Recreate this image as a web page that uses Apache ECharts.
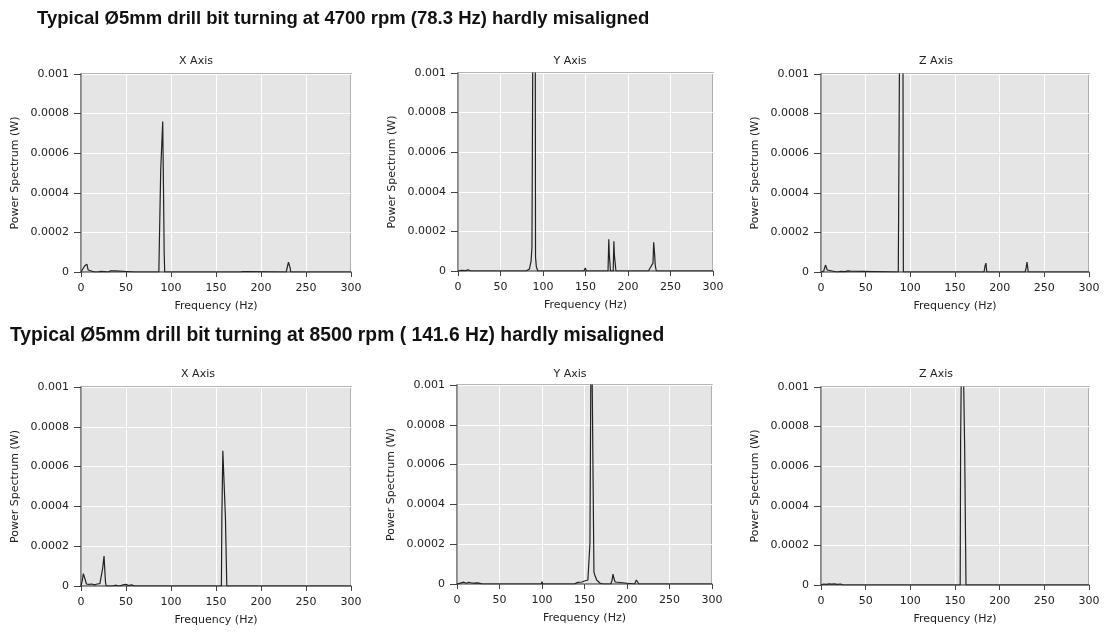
<!DOCTYPE html>
<html>
<head>
<meta charset="utf-8">
<script src="https://cdn.jsdelivr.net/npm/echarts@6/dist/echarts.min.js"></script>
<style>html,body{margin:0;padding:0;background:#fff}#c{width:1104px;height:632px}</style>
</head>
<body>
<div id="c"></div>
<script>
// ---- Data (frequency Hz, power W) ----
const mainTitles = [
  'Typical \u00D85mm drill bit turning at 4700 rpm (78.3 Hz) hardly misaligned',
  'Typical \u00D85mm drill bit turning at 8500 rpm ( 141.6 Hz) hardly misaligned'
];
const panelTitles = ['X Axis', 'Y Axis', 'Z Axis', 'X Axis', 'Y Axis', 'Z Axis'];
const xTicks = [0, 50, 100, 150, 200, 250, 300];
const yTicks = [0, 0.0002, 0.0004, 0.0006, 0.0008, 0.001];

const spec4700X = [[0,0],[2,0.000004],[4,0.00003],[5,0.00004],[6.5,0.00004],[8,0.00001],[9,0],[15,0],[19,0],[20,0.000006],[22,0.000003],[24,0.000006],[26,0.000002],[28,0.000005],[30,0],[33,0.000006],[35,0.000002],[38,0.000006],[40,0],[60,0],[74,0],[75,0.000004],[76,0],[86.5,0],[87,0.00013],[88,0.00013],[88.6,0.00052],[90,0.00051],[90.8,0.00076],[91.6,0.00044],[92.4,0.0001],[93,0],[150,0],[151,0.000003],[152,0],[177,0],[178,0.000007],[180,0.000002],[182,0.000008],[184,0.000002],[186,0],[228,0],[229.5,0.00001],[230.5,0.00005],[231.8,0.00006],[232.4,0.00002],[233,0],[300,0]];
const spec4700Y = [[0,0],[2,0.000008],[4,0.000003],[6,0.000006],[9,0.000002],[12,0.000006],[15,0],[80,0],[84,0.00001],[86,0.00005],[87,0.00012],[88,0.00012],[88.4,0.0015],[90.8,0.0015],[91.2,0.00007],[92.2,0.00002],[94,0],[99,0],[100,0.000008],[101,0],[148,0],[149.8,0.000015],[151,0],[176.5,0],[177.4,0.00016],[178,0.000085],[178.8,0.000085],[179.4,0],[182.6,0],[183.4,0.00015],[184,0.00008],[185,0.00008],[185.8,0],[224,0],[226.7,0.00002],[229.4,0.00004],[230.2,0.000145],[231.4,0.00008],[232,0.00003],[233.3,0],[300,0]];
const spec4700Z = [[0,0],[3,0.000005],[5,0.000035],[6,0.000037],[7,0.00001],[8,0],[18,0],[20,0.000006],[22,0.000003],[24,0.000006],[27,0.000002],[30,0.000006],[33,0.000004],[35,0],[86.5,0],[86.9,0.0003],[88,0.0003],[88.4,0.0015],[91.6,0.0015],[92.2,0],[149,0],[150,0.000003],[151,0],[182.5,0],[183.6,0.00003],[184.6,0.000045],[185.6,0],[228.5,0],[229.6,0.00002],[230.6,0.00005],[231.4,0.00006],[232,0],[300,0]];

const spec8500X = [[0,0],[1.5,0.00003],[2.6,0.000062],[3.6,0.00006],[4.8,0.00003],[6,0.00001],[9,0.000008],[12,0.00001],[15,0.000006],[18,0.00001],[21,0.000012],[23,0.00002],[24.1,0.00009],[25,0.00009],[25.6,0.00015],[26.3,0.00009],[27.2,0.00002],[28,0],[35,0],[38,0.000004],[42,0],[47,0.000006],[50,0.000008],[53,0.000002],[56,0.000006],[60,0],[156,0],[156.5,0.00034],[157.6,0.00068],[159.4,0.00067],[160.5,0.00034],[161.5,0.00034],[162,0],[181,0],[182.4,0.00001],[184,0],[291,0],[292.5,0.000005],[294,0],[300,0]];
const spec8500Y = [[0,0],[2,0.000008],[5,0.000006],[8,0.000009],[11,0.000004],[14,0.000009],[17,0.000005],[20,0.000004],[24,0.000006],[27,0.000003],[30,0],[99,0],[100,0.000012],[101,0],[138,0],[142,0.000008],[147,0.00001],[150,0.000015],[154,0.00002],[155.7,0.00003],[156.4,0.000205],[157.6,0.00021],[158,0.0015],[160.3,0.0015],[161.1,0.00006],[162.5,0.00004],[164.3,0.00002],[168,0.000005],[172,0],[181,0],[182.5,0.00002],[183.5,0.00005],[184.5,0.00003],[186,0.00001],[188,0],[209,0],[211,0.00002],[212.5,0.000018],[214,0],[248,0],[249.5,0.000006],[251,0],[300,0]];
const spec8500Z = [[0,0],[3,0.000005],[6,0.000003],[9,0.000006],[12,0.000004],[15,0.000006],[18,0.000003],[22,0.000005],[25,0],[37,0],[38,0.000004],[39,0],[155.8,0],[156.3,0.00073],[157.4,0.00073],[158,0.0015],[160.2,0.0015],[160.8,0.0007],[161.8,0.0007],[162.3,0],[181.5,0],[183.2,0.00001],[184.5,0],[211,0],[212,0.000005],[213,0],[300,0]];

const panels = [spec4700X, spec4700Y, spec4700Z, spec8500X, spec8500Y, spec8500Z];

// ---- Layout ----
const grids = [
  {left: 81, top: 74, width: 270, height: 198},
  {left: 458, top: 73, width: 255, height: 198},
  {left: 821, top: 74, width: 268, height: 198},
  {left: 81, top: 387, width: 270, height: 199},
  {left: 457, top: 385, width: 255, height: 199},
  {left: 821, top: 387, width: 268, height: 198}
];
const titleCenters = [191, 565, 931, 193, 565, 931];
const titleTops = [51, 51, 51, 364, 364, 364];

const labelFont = 'DejaVu Sans, Verdana, sans-serif';
const headFont = 'Liberation Sans, Arial, sans-serif';

const option = {
  animation: false,
  backgroundColor: '#ffffff',
  title: [
    {text: mainTitles[0], left: 32, top: 4, textStyle: {fontFamily: headFont, fontWeight: 'bold', fontSize: 18.5, color: '#111'}},
    {text: mainTitles[1], left: 5, top: 321, textStyle: {fontFamily: headFont, fontWeight: 'bold', fontSize: 19.3, color: '#111'}}
  ].concat(panelTitles.map((t, i) => ({
    text: t, left: titleCenters[i], top: titleTops[i], textAlign: 'center',
    textStyle: {fontFamily: labelFont, fontWeight: 'normal', fontSize: 11, color: '#222'}
  }))),
  grid: grids.map(g => Object.assign({show: true, backgroundColor: '#e5e5e5', borderColor: '#9e9e9e', borderWidth: 1.5, containLabel: false}, g)),
  xAxis: grids.map((g, i) => ({
    gridIndex: i, type: 'value', min: xTicks[0], max: xTicks[xTicks.length - 1], interval: xTicks[1] - xTicks[0],
    name: 'Frequency (Hz)', nameLocation: 'middle', nameGap: 29,
    nameTextStyle: {fontFamily: labelFont, fontSize: 11, color: '#222'},
    axisLine: {show: true, onZero: false, lineStyle: {color: '#7a7a7a', width: 1.5}},
    axisTick: {show: true, length: 5, lineStyle: {color: '#444'}},
    axisLabel: {fontFamily: labelFont, fontSize: 11, color: '#222', margin: 11, showMaxLabel: true},
    splitLine: {show: true, lineStyle: {color: '#ffffff', width: 1}}
  })),
  yAxis: grids.map((g, i) => ({
    gridIndex: i, type: 'value', min: yTicks[0], max: yTicks[yTicks.length - 1], interval: yTicks[1],
    name: 'Power Spectrum (W)', nameLocation: 'middle', nameGap: 60,
    nameTextStyle: {fontFamily: labelFont, fontSize: 11, color: '#222'},
    axisLine: {show: true, onZero: false, lineStyle: {color: '#7a7a7a', width: 1.5}},
    axisTick: {show: true, length: 7, lineStyle: {color: '#444'}},
    axisLabel: {fontFamily: labelFont, fontSize: 11, color: '#222', margin: 12,
      formatter: v => String(parseFloat(v.toFixed(4)))},
    splitLine: {show: true, lineStyle: {color: '#ffffff', width: 1}}
  })),
  series: panels.map((d, i) => ({
    type: 'line', xAxisIndex: i, yAxisIndex: i, data: d,
    showSymbol: false, symbol: 'none', clip: true,
    lineStyle: {color: '#222222', width: 1.2}
  }))
};

const chart = echarts.init(document.getElementById('c'), null, {renderer: 'canvas'});
chart.setOption(option);
</script>
</body>
</html>
